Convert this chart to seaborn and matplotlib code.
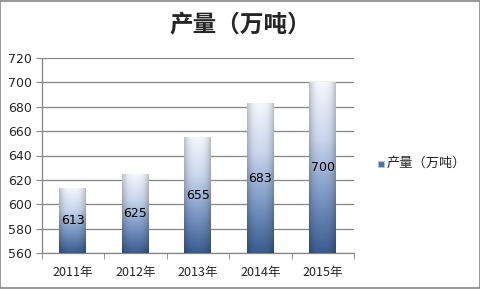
import numpy as np
import pandas as pd
import matplotlib
matplotlib.use("Agg")
import matplotlib.pyplot as plt
import seaborn as sns
from matplotlib.colors import LinearSegmentedColormap
from matplotlib.patches import Rectangle

years = ["2011年", "2012年", "2013年", "2014年", "2015年"]
values = [613, 625, 655, 683, 700]
series_name = "产量（万吨）"
title = "产量（万吨）"
yticks = [560, 580, 600, 620, 640, 660, 680, 700, 720]

sns.set_style("white")
plt.rcParams['font.family'] = ['Noto Sans CJK SC', 'DejaVu Sans']

df = pd.DataFrame({"year": years, "value": values})

fig = plt.figure(figsize=(4.81, 2.89), dpi=100)
fig.patch.set_facecolor("white")
ax = fig.add_axes([41.5/481, 1-253/289, (354-41.5)/481, (253-58)/289])

sns.barplot(data=df, x="year", y="value", ax=ax, width=0.43, color="#4a6ea5",
            saturation=1, zorder=3)
ymin, ymax = yticks[0], yticks[-1]
ax.set_ylim(ymin, ymax)
ax.set_xlim(-0.5, len(years) - 0.5)

# gradient fill
cmap_v = LinearSegmentedColormap.from_list("g", ["#3a5c90", "#7c98c4", "#c9d6ec", "#f4f7fd"])
for p in ax.patches:
    x0, w = p.get_x(), p.get_width()
    top = p.get_y() + p.get_height()
    y0 = ymin
    h = top - y0
    p.set_facecolor("none")
    p.set_edgecolor("none")
    ny, nx = 100, 40
    yy = np.linspace(0, 1, ny)[:, None]
    xx = np.linspace(-1, 1, nx)[None, :]
    base = cmap_v(yy * np.ones_like(xx))[..., :3]
    shade = 1 - 0.22 * np.abs(xx) ** 3
    img = np.clip(base * shade[..., None], 0, 1)
    im = ax.imshow(img, extent=[x0, x0 + w, y0, top], origin="lower",
                   aspect="auto", zorder=3, interpolation="bilinear")
    clip = Rectangle((x0, y0), w, h, transform=ax.transData)
    im.set_clip_path(clip)
    ax.text(x0 + w / 2, y0 + h / 2, f"{int(round(top))}", ha="center", va="center",
            fontsize=9, color="black", zorder=4, family=["DejaVu Sans"])

ax.set_yticks(yticks)
ax.set_yticklabels([str(t) for t in yticks], fontsize=9, family=["DejaVu Sans"])
ax.yaxis.grid(True, color="#868686", linewidth=0.9, zorder=0)
ax.set_axisbelow(True)
ax.set_xlabel("")
ax.set_ylabel("")
for s in ["top", "right"]:
    ax.spines[s].set_visible(False)
for s in ["left", "bottom"]:
    ax.spines[s].set_color("#868686")
    ax.spines[s].set_linewidth(0.9)
ax.tick_params(axis="y", which="both", left=True, length=4, color="#868686", pad=3)
ax.set_xticks(range(len(years)))
ax.set_xticklabels(years, fontsize=9)
ax.tick_params(axis="x", which="major", bottom=False, pad=6)
ax.set_xticks(np.arange(-0.5, len(years)), minor=True)
ax.tick_params(axis="x", which="minor", bottom=True, length=4, color="#868686")

fig.text(0.5, 1 - 25/289, title, ha="center", va="center", fontsize=17, fontweight="bold")

# legend
fig.patches.append(Rectangle((378/481, 1 - 167/289), 6/481, 6/289, transform=fig.transFigure,
                             facecolor="#4f71a6", edgecolor="#c0c8d8", linewidth=0.5))
fig.text(387/481, 1 - 163/289, series_name, ha="left", va="center", fontsize=9.5)

# border
fig.patches.append(Rectangle((0.001, 0.002), 0.997, 0.995, transform=fig.transFigure,
                             facecolor="none", edgecolor="#868686", linewidth=1.2))

fig.savefig("out.png", dpi=100)
